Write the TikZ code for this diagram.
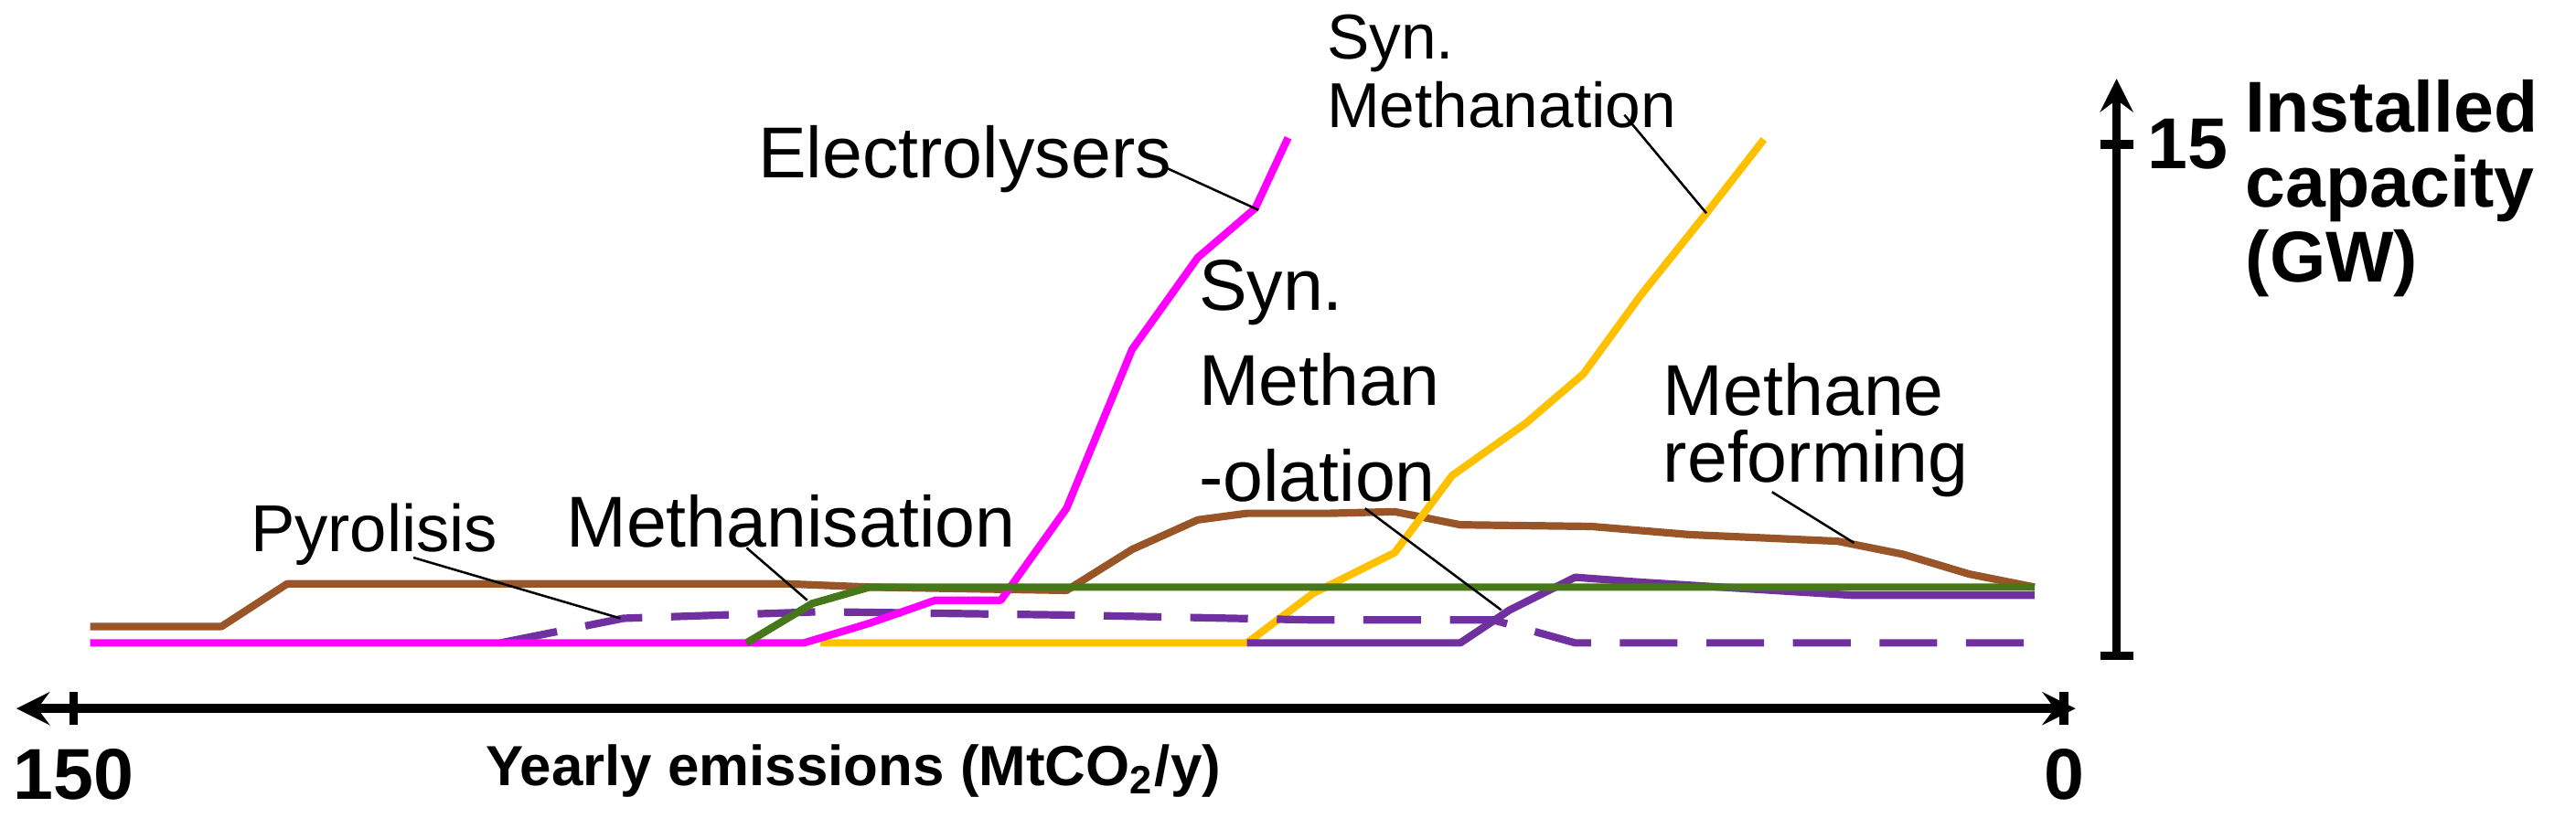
\documentclass[tikz,border=0pt]{standalone}
\usepackage{fontspec}
\setmainfont{Liberation Sans}
\begin{document}
\begin{tikzpicture}[x=0.01cm,y=-0.01cm,
  curve/.style={line width=1.3pt,line join=round},
  axis/.style={line width=1.5pt},
  lbl/.style={font=\fontsize{12}{14}\selectfont,inner sep=0pt},
  blbl/.style={font=\fontsize{12.5}{15}\selectfont\bfseries,inner sep=0pt},
  leader/.style={line width=0.4pt}]
\useasboundingbox (0,0) rectangle (1570,505);
\definecolor{cmag}{RGB}{255,0,255}
\definecolor{cbrown}{RGB}{153,85,40}
\definecolor{cyel}{RGB}{255,192,0}
\definecolor{cgreen}{RGB}{70,120,25}
\definecolor{cpurp}{RGB}{112,48,160}
% axes
\draw[axis,<->,>=stealth] (10,432) -- (1265,432);
\draw[axis] (45,422) -- (45,442) (1258,422) -- (1258,442);
\draw[axis,->,>=stealth] (1290,400) -- (1290,48);
\draw[axis] (1280,400) -- (1300,400) (1280,88) -- (1300,88);
\node[blbl] (n150) at (45,472) {150};
\node[blbl] (n0) at (1258,472) {0};
\node[blbl,font=\fontsize{9.8}{12}\selectfont\bfseries] (xl) at (520,470) {Yearly emissions (MtCO\textsubscript{2}/y)};
\node[blbl,anchor=west] (n15) at (1308,88) {15};
\node[blbl,font=\fontsize{12.5}{13}\selectfont\bfseries,anchor=north west,align=left] (yl) at (1368,48) {Installed\\capacity\\(GW)};
% curves
\draw[curve,cbrown] (55,382)--(135,382)--(175,356)--(480,356)--(530,358)--(650,360)--(690,335)--(730,317)--(760,313)--(810,313)--(850,312)--(890,320)--(970,321)--(1030,326)--(1120,330)--(1160,338)--(1200,350)--(1240,358);
\draw[curve,cyel] (500,392)--(760,392)--(800,362)--(850,337)--(885,290)--(930,258)--(965,228)--(1000,180)--(1040,130)--(1075,85);
\draw[curve,cpurp] (760,392)--(890,392)--(920,372)--(960,352)--(1000,355)--(1130,363)--(1240,363);
\draw[curve,cpurp,dashed,dash pattern=on 10pt off 5pt] (305,392)--(380,377)--(500,373)--(650,375)--(800,378)--(910,378)--(960,392)--(1240,392);
\draw[curve,cmag] (55,392)--(490,392)--(530,380)--(570,366)--(610,366)--(650,310)--(690,213)--(730,157)--(765,127)--(785,84);
\draw[curve,cgreen] (455,392)--(495,368)--(530,358)--(1240,358);
% labels
\node[lbl,font=\fontsize{12.5}{14}\selectfont] (el) at (588,97) {Electrolysers};
\node[lbl,anchor=north west,align=left,font=\fontsize{11}{12}\selectfont] (sm) at (808,8) {Syn.\\Methanation};
\node[lbl,anchor=north west,align=left,font=\fontsize{12.5}{16.5}\selectfont] (smo) at (730,158) {Syn.\\Methan\\-olation};
\node[lbl,anchor=north west,align=left,font=\fontsize{12.5}{11.5}\selectfont] (mr) at (1013,221) {Methane\\reforming};
\node[lbl,font=\fontsize{11.5}{13}\selectfont] (py) at (228,326) {Pyrolisis};
\node[lbl,font=\fontsize{12.5}{14}\selectfont] (ms) at (482,318) {Methanisation};
\coordinate (elE) at (767,128);
\coordinate (smE) at (1040,130);
\coordinate (smoE) at (915,372);
\coordinate (mrE) at (1130,331);
\coordinate (pyE) at (378,377);
\coordinate (msE) at (492,366);
\draw[leader] (710,102) -- (elE);
\draw[leader] (990,70) -- (smE);
\draw[leader] (832,310) -- (smoE);
\draw[leader] (1080,300) -- (mrE);
\draw[leader] (252,340) -- (pyE);
\draw[leader] (455,334) -- (msE);
\end{tikzpicture}
\end{document}
